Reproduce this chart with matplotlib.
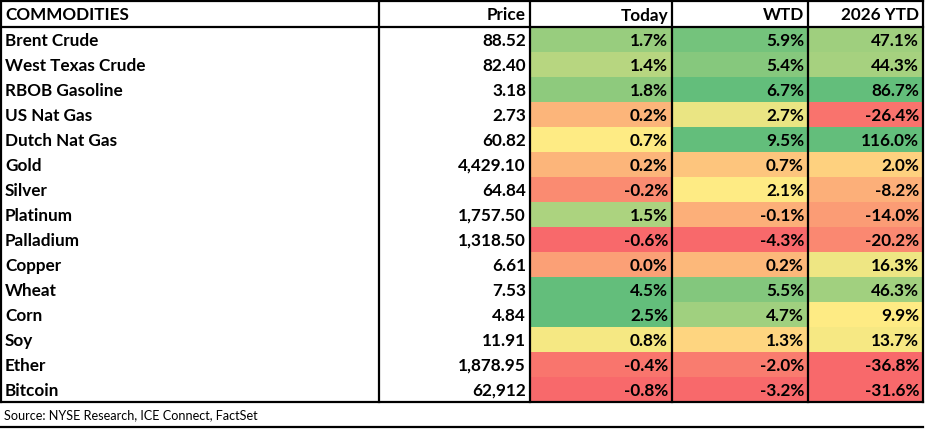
import numpy as np
import matplotlib.pyplot as plt
from matplotlib.colors import LinearSegmentedColormap

plt.rcParams["font.family"] = ["Lato", "DejaVu Sans"]

# table data
names = ["Brent Crude", "West Texas Crude", "RBOB Gasoline", "US Nat Gas", "Dutch Nat Gas",
         "Gold", "Silver", "Platinum", "Palladium", "Copper", "Wheat", "Corn", "Soy",
         "Ether", "Bitcoin"]
price = ["88.52", "82.40", "3.18", "2.73", "60.82", "4,429.10", "64.84", "1,757.50",
         "1,318.50", "6.61", "7.53", "4.84", "11.91", "1,878.95", "62,912"]
today = [1.7, 1.4, 1.8, 0.2, 0.7, 0.2, -0.2, 1.5, -0.6, 0.0, 4.5, 2.5, 0.8, -0.4, -0.8]
wtd = [5.9, 5.4, 6.7, 2.7, 9.5, 0.7, 2.1, -0.1, -4.3, 0.2, 5.5, 4.7, 1.3, -2.0, -3.2]
ytd = [47.1, 44.3, 86.7, -26.4, 116.0, 2.0, -8.2, -14.0, -20.2, 16.3, 46.3, 9.9, 13.7, -36.8, -31.6]
headers = ["COMMODITIES", "Price", "Today", "WTD", "2026 YTD"]
source = "Source: NYSE Research, ICE Connect, FactSet"

# excel style 3-colour scale (10th / 50th / 90th percentile)
cmap = LinearSegmentedColormap.from_list("rdylgn_xl", ["#F8696B", "#FFEB84", "#63BE7B"])

def cell_colors(vals):
    v = np.array(vals)
    lo, mid, hi = np.percentile(v, [10, 50, 90])
    t = np.where(v <= mid, 0.5 * (v - lo) / (mid - lo), 0.5 + 0.5 * (v - mid) / (hi - mid))
    return cmap(np.clip(t, 0, 1))

W, H = 926, 429
fig = plt.figure(figsize=(W / 100, H / 100), dpi=100)
ax = fig.add_axes([0, 0, 1, 1])
ax.set_xlim(0, W)
ax.set_ylim(H, 0)
ax.axis("off")

col_x = [1, 379, 530, 672, 808, 923]
row_h = 25
hdr_h = 26
top = 1
fs = 12.3
dy = 1.5  # text sits a bit low in the cells

# header
ax.text(col_x[0] + 4, top + hdr_h / 2 + dy, headers[0], fontsize=fs, fontweight="bold",
        ha="left", va="center")
for j in range(1, 5):
    ax.text(col_x[j + 1] - 4, top + hdr_h / 2 + dy, headers[j], fontsize=fs, fontweight="bold",
            ha="right", va="center")

cols = [today, wtd, ytd]
colors = [cell_colors(c) for c in cols]
for i, name in enumerate(names):
    y0 = top + hdr_h + i * row_h
    yc = y0 + row_h / 2 + dy
    ax.text(col_x[0] + 4, yc, name, fontsize=fs, fontweight="bold", ha="left", va="center")
    ax.text(col_x[2] - 4, yc, price[i], fontsize=fs, fontweight="bold", ha="right", va="center")
    for k in range(3):
        x0, x1 = col_x[k + 2], col_x[k + 3]
        ax.add_patch(plt.Rectangle((x0, y0), x1 - x0, row_h, facecolor=colors[k][i],
                                   edgecolor="none"))
        ax.text(x1 - 4, yc, f"{cols[k][i]:.1f}%", fontsize=fs, fontweight="bold",
                ha="right", va="center")

bottom = top + hdr_h + len(names) * row_h
lw = 1.6
# grid lines
ax.plot([col_x[0], col_x[-1]], [top, top], color="black", lw=lw)
ax.plot([col_x[0], col_x[-1]], [top + hdr_h, top + hdr_h], color="black", lw=lw)
ax.plot([col_x[0], col_x[-1]], [bottom, bottom], color="black", lw=lw)
for x in col_x:
    ax.plot([x, x], [top, bottom], color="black", lw=lw)

# source row
ax.text(col_x[0] + 3, bottom + 13, source, fontsize=9.1, ha="left", va="center")
ax.plot([0, col_x[-1]], [bottom + 25, bottom + 25], color="black", lw=lw)

plt.savefig("out.png", dpi=100)
